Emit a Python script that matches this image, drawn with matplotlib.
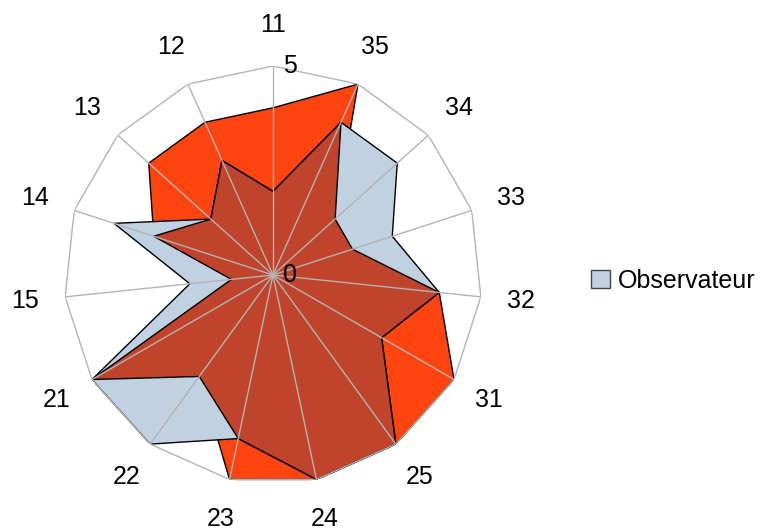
import numpy as np
import matplotlib
matplotlib.use("Agg")
import matplotlib.pyplot as plt
from matplotlib.patches import Patch

plt.rcParams['font.family'] = ['Liberation Sans', 'DejaVu Sans']

categories = ["11", "35", "34", "33", "32", "31", "25", "24", "23", "22", "21", "15", "14", "13", "12"]
serie_orange = [4, 5, 2, 2, 4, 5, 5, 5, 5, 3, 5, 1, 3, 4, 4]
observateur = [2, 4, 4, 3, 4, 3, 5, 5, 4, 5, 5, 2, 4, 2, 3]
serie_sombre = [2, 4, 2, 2, 4, 3, 5, 5, 4, 3, 5, 1, 3, 2, 3]
r_max = 5
r_ticks = [0, 5]

col_orange = "#FF450F"
col_blue = "#C0D1E2"
col_dark = "#C0442C"
col_grid = "#B3B3B3"

n = len(categories)
theta = np.linspace(0, 2 * np.pi, n, endpoint=False)
theta_c = np.append(theta, theta[0])

def closed(v):
    return np.append(np.asarray(v, float), v[0])

fig = plt.figure(figsize=(7.6, 5.32), dpi=100)
ax = fig.add_axes([0.0842, 0.0902, 0.55, 0.7857], projection='polar')
ax.set_theta_offset(np.pi / 2)
ax.set_theta_direction(-1)
ax.set_ylim(0, r_max)
ax.grid(False)
ax.set_xticks([])
ax.set_yticks([])
ax.spines['polar'].set_visible(False)
ax.patch.set_alpha(0)

for vals, col, z in [(serie_orange, col_orange, 2), (observateur, col_blue, 3), (serie_sombre, col_dark, 4)]:
    ax.fill(theta_c, closed(vals), facecolor=col, edgecolor='black', linewidth=1.0, zorder=z)

# outer polygon grid and spokes
ax.plot(theta_c, np.full(n + 1, r_max), color=col_grid, lw=1.0, zorder=5)
for t in theta:
    ax.plot([t, t], [0, r_max], color=col_grid, lw=1.0, zorder=5)

# category labels
for t, lab in zip(theta, categories):
    ax.text(t, r_max * 1.195, lab, ha='center', va='center', fontsize=18, color='black', clip_on=False)

# radial labels
for rv in r_ticks:
    ax.annotate(str(rv), xy=(0, rv), xytext=(10, 0), textcoords='offset pixels',
                ha='left', va='center', fontsize=18, color='black', zorder=6)

fig.legend(handles=[Patch(facecolor=col_blue, edgecolor='#444444', linewidth=1.0, label='Observateur')],
           loc='center left', bbox_to_anchor=(0.765, 0.472), frameon=False, fontsize=18,
           handlelength=0.75, handleheight=0.75, handletextpad=0.3, borderaxespad=0)

fig.savefig("out.png", dpi=100)
